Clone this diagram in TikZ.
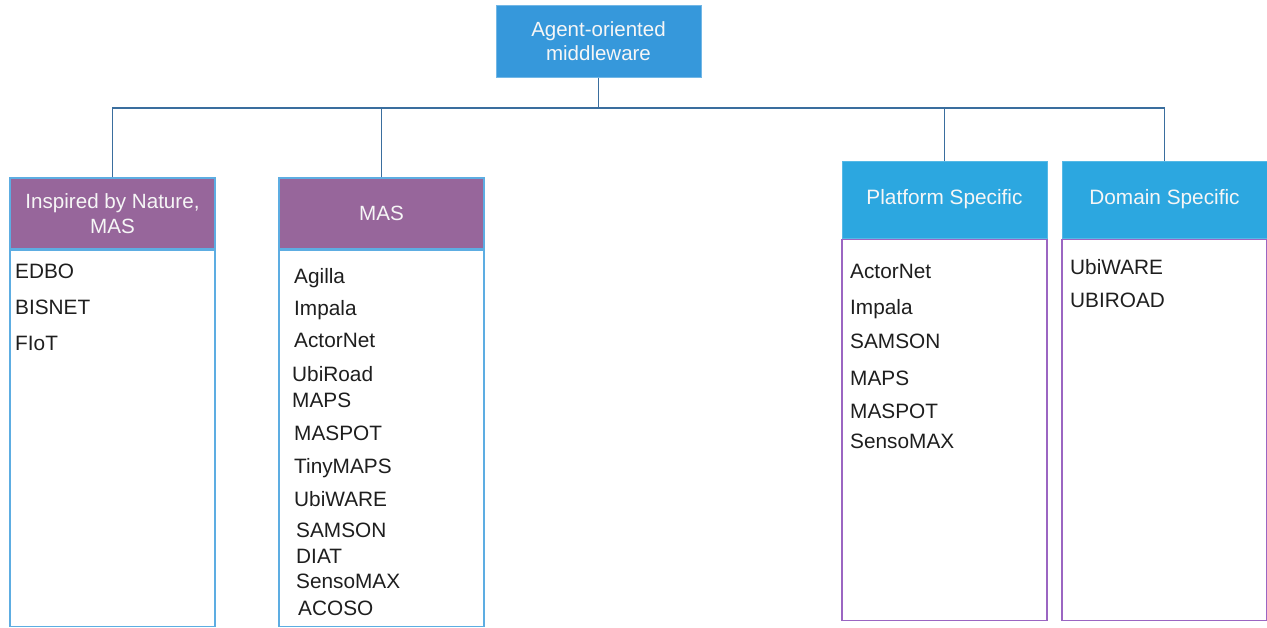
\documentclass[tikz,border=0pt]{standalone}
\usepackage{fontspec}
\setmainfont{Liberation Sans}
\begin{document}
\begin{tikzpicture}[x=1pt,y=-1pt,
  link/.style={draw=linkc,line width=1.5pt},
  topbox/.style={rectangle,fill=topc,draw=topc!70!white,line width=1pt,minimum width=205pt,minimum height=72pt,
    text=white!93!gray,align=center,font=\fontsize{20.5}{24}\selectfont,inner sep=0pt},
  purplehead/.style={rectangle,fill=purphead,draw=boxblue,line width=1.5pt,minimum width=205pt,minimum height=71pt,
    text=white!93!gray,align=center,font=\fontsize{20.6}{25}\selectfont,inner sep=0pt},
  bluehead/.style={rectangle,fill=bluehead,draw=bluehead!80!white,line width=1pt,minimum width=205pt,minimum height=77pt,
    text=white!93!gray,align=center,font=\fontsize{20.8}{25}\selectfont,inner sep=0pt},
  bluebody/.style={rectangle,draw=boxblue,line width=1.5pt,minimum width=205pt,inner sep=0pt},
  purplebody/.style={rectangle,draw=boxpurple,line width=1.5pt,minimum width=205pt,inner sep=0pt},
  item/.style={anchor=base west,inner sep=0pt,text=itemc,font=\fontsize{20.8}{24}\selectfont}]
\definecolor{linkc}{RGB}{58,110,158}
\definecolor{topc}{RGB}{54,152,219}
\definecolor{purphead}{RGB}{151,102,155}
\definecolor{bluehead}{RGB}{44,167,224}
\definecolor{boxblue}{RGB}{93,173,226}
\definecolor{boxpurple}{RGB}{155,102,194}
\definecolor{itemc}{RGB}{30,30,30}
\useasboundingbox (0,0) rectangle (1267,627);

% root
\node[topbox] (top) at (598.5,41) {Agent-oriented\\middleware};

% category headers
\node[purplehead] (h1) at (112.5,213.5) {Inspired by Nature,\\MAS};
\node[purplehead] (h2) at (381.5,213.5) {MAS};
\node[bluehead] (h3) at (944.5,199.5) {Platform Specific};
\node[bluehead] (h4) at (1164.5,199.5) {Domain Specific};

% list bodies
\node[bluebody,anchor=north,minimum height=376pt] (b1) at (h1.south) {};
\node[bluebody,anchor=north,minimum height=376pt] (b2) at (h2.south) {};
\node[purplebody,anchor=north,minimum height=381pt] (b3) at (h3.south) {};
\node[purplebody,anchor=north,minimum height=381pt] (b4) at (h4.south) {};

% tree connectors
\coordinate (bus) at (112,108);
\draw[link] (top.south) -- (top.south |- bus);
\draw[link] (h1.north) -- (h1.north |- bus) -- (h4.north |- bus) -- (h4.north);
\draw[link] (h2.north) -- (h2.north |- bus);
\draw[link] (h3.north) -- (h3.north |- bus);

% inspired by nature
\node[item] (n1) at (15,278) {EDBO};
\node[item] (n2) at (15,314) {BISNET};
\node[item] (n3) at (15,350) {FIoT};

% MAS
\node[item] (m1) at (294,283) {Agilla};
\node[item] (m2) at (294,315) {Impala};
\node[item] (m3) at (294,347) {ActorNet};
\node[item] (m4) at (292,381) {UbiRoad};
\node[item] (m5) at (292,407) {MAPS};
\node[item] (m6) at (294,440) {MASPOT};
\node[item] (m7) at (294,473) {TinyMAPS};
\node[item] (m8) at (294,506) {UbiWARE};
\node[item] (m9) at (296,537) {SAMSON};
\node[item] (m10) at (296,563) {DIAT};
\node[item] (m11) at (296,588) {SensoMAX};
\node[item] (m12) at (298,615) {ACOSO};

% platform specific
\node[item] (p1) at (850,278) {ActorNet};
\node[item] (p2) at (850,314) {Impala};
\node[item] (p3) at (850,348) {SAMSON};
\node[item] (p4) at (850,385) {MAPS};
\node[item] (p5) at (850,418) {MASPOT};
\node[item] (p6) at (850,448) {SensoMAX};

% domain specific
\node[item] (d1) at (1070,274) {UbiWARE};
\node[item] (d2) at (1070,307) {UBIROAD};
\end{tikzpicture}
\end{document}
